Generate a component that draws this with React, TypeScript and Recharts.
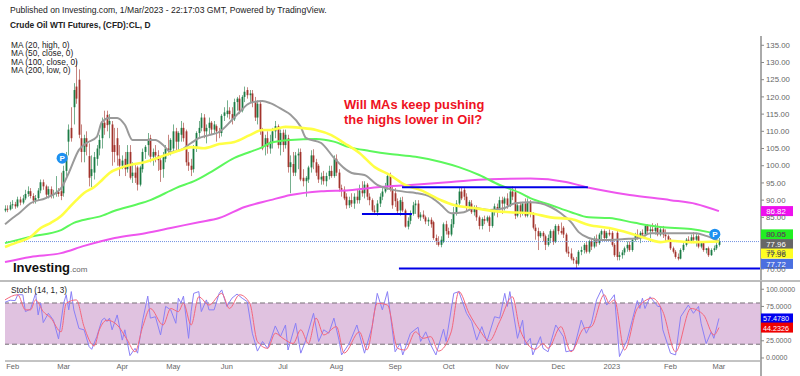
import {
  Bar,
  ComposedChart,
  Line,
  ReferenceArea,
  ReferenceDot,
  ReferenceLine,
  XAxis,
  YAxis,
} from "recharts";

type Ohlc = [number, number, number, number];

// daily bars, open / high / low / close
const janBars: Ohlc[] = [
  [87, 88.5, 86.5, 87.5], [87.5, 88.5, 86.5, 87.3], [87.3, 89.5, 87, 88.5],
];
const febBars: Ohlc[] = [
  [88.5, 90, 87.5, 88.8], [88.8, 89.5, 87.5, 88.2], [88.2, 91, 87.8, 90.2], [90.2, 91, 88.5, 89.3], [89.3, 91.5, 88.8, 90.5],
  [90.5, 93, 90, 91.8], [91.8, 94, 91, 92.6], [92.6, 93.5, 90.5, 91.2], [91.2, 92, 89, 89.9], [89.9, 91.5, 89, 90.6],
  [90.6, 93.5, 90, 92.8], [92.8, 96, 92, 95.2], [95.2, 96, 93, 94], [94, 94.5, 90.5, 91.6], [91.6, 94, 90.5, 93.2],
  [93.2, 94, 90.5, 91.5], [91.5, 93, 90.5, 91.8], [91.8, 97, 91, 92.4], [92.4, 93.5, 91, 91.8], [92.6, 98, 90, 91.2],
];
const marBars: Ohlc[] = [
  [92, 100, 91, 98.5], [98.5, 104, 97, 103], [107, 112, 103, 110.5], [111, 117, 107, 108], [117, 124, 112, 122],
  [123, 130.5, 118, 119.5], [125, 128, 108, 109], [108, 112, 101, 104], [104, 109, 101, 108], [108, 110, 103, 105.5],
  [102.8, 106.5, 94, 96.5], [97, 103, 93.8, 99], [98, 104, 96, 102.5], [102, 106, 100, 105], [105, 109, 103, 107.5],
  [108, 114, 105, 112.5], [112.5, 116, 109, 111], [114.8, 116, 110, 111.8], [112, 115, 108, 113], [112, 113, 100, 104],
  [106, 111, 101, 104], [108, 111, 100, 103], [102, 106, 97, 100],
];
const aprBars: Ohlc[] = [
  [100, 103, 99, 101.5], [102, 104, 97, 99], [99, 106, 98, 104], [104, 106, 96, 96.5], [97, 101, 95, 98],
  [98, 100.5, 95, 96.5], [99.5, 100, 92.8, 94.5], [94.5, 100, 94, 99.5], [99, 105, 98, 104], [104, 106, 102, 105.5],
  [106, 109.5, 103, 107.8], [108, 109, 101, 102.6], [102.6, 105, 100, 104], [104, 106, 101, 103], [103, 104.5, 98.5, 101.6],
  [101.6, 102.5, 95.3, 98.8], [99, 104, 96.5, 102.5], [102, 106, 101, 105], [105, 109, 103, 104.5], [104.5, 108, 103, 107.5],
];
const mayBars: Ohlc[] = [
  [105, 112, 104, 110], [110, 111, 104, 107], [107, 110, 104, 109.5], [109, 113, 107, 111], [111, 112.5, 107, 108],
  [110, 110.5, 100, 101], [101, 104, 98.5, 100], [100, 102, 97, 98.8], [99, 106, 98, 105], [105, 110, 104, 109.5],
  [109.5, 113, 108, 111], [111, 115.3, 110, 114], [114, 115, 108, 110], [110, 112, 106.5, 111], [111, 114, 109, 112.5],
  [112.5, 113, 109, 110.5], [110.5, 113, 109.5, 112], [111.5, 112, 107, 110], [110, 111, 108, 109.5], [109.5, 115, 108.5, 114.5],
  [114.5, 117, 113, 115.5],
];
const junBars: Ohlc[] = [
  [115, 119, 114, 116], [116, 117, 113.5, 115], [115, 117, 112, 113.5], [113.5, 119.5, 113, 118.5], [118.5, 120, 116, 119.5],
  [119.5, 120.5, 115, 116], [116, 120.5, 115.5, 120], [120, 123, 118.5, 121.5], [122, 122.8, 119.5, 120.5], [120.5, 122, 118.5, 121],
  [121, 122, 117, 118.5], [118.5, 120, 113, 114], [114, 119, 112, 118], [118, 119, 109, 110], [110, 111, 104.5, 105],
  [106, 109, 103, 108], [108, 110, 103.5, 105.5], [105, 109, 103.5, 107], [107, 111, 105, 110], [110, 113, 108, 111.5],
  [111.5, 112, 105, 106], [106, 110.5, 103, 109.5],
];
const julBars: Ohlc[] = [
  [109.6, 110.5, 104, 106], [106, 110.5, 105, 109], [108, 109, 98, 99.6], [99.6, 103, 92, 101], [100.5, 104, 97, 98],
  [98, 104, 97, 103], [103, 105, 99, 103.5], [104, 105, 95.5, 96], [96.5, 99, 94, 95.5], [95.5, 97, 91, 96.5],
  [96, 100, 95, 99.5], [99.5, 104.5, 98, 103], [103, 104.8, 99, 101], [101, 102, 97, 98], [100, 100.5, 95, 96],
  [96, 98, 94.5, 96.8], [97, 98.5, 94.5, 95.5], [95.5, 98, 94, 97], [97, 100, 96, 98.5], [98.5, 100, 96.5, 97],
  [97, 103, 96.5, 102],
];
const augBars: Ohlc[] = [
  [102, 103.3, 97, 98], [98, 99, 92.5, 93.5], [93.5, 94.5, 91, 93], [93, 94, 90, 90.5], [91, 92, 87.5, 88.5],
  [88.5, 91, 87.7, 90], [90, 92, 88, 89], [89, 92, 87.5, 91], [91, 93, 89, 90], [90, 94.5, 89, 92.8],
  [92.8, 95.5, 91, 92], [92, 95.5, 90.5, 94.5], [94.5, 95, 90, 91], [91, 92, 88.5, 90], [90, 90.5, 86.5, 87],
  [87, 88.5, 85.7, 86.5], [86.5, 90, 85.5, 89], [89, 92, 88, 91], [91, 93.5, 90, 92.5], [92.5, 95, 92, 94],
  [94, 97.5, 93, 97], [97, 98, 92.5, 93], [93, 94, 87.5, 88.5],
];
const sepBars: Ohlc[] = [
  [92, 93.5, 88, 89.7], [89.7, 90.5, 86, 86.8], [87, 90.8, 85.5, 90], [89.5, 91, 86.5, 87], [87, 87.5, 82, 82.3],
  [82.3, 85, 81.5, 84], [84, 87, 83, 86], [86, 89.5, 85.5, 88.5], [88.5, 90, 86, 89], [89, 90, 84.5, 85],
  [85, 86.5, 84, 85.8], [85.8, 87, 84.5, 85], [85, 85.5, 83, 83.8], [83.8, 85, 82.5, 84.3], [84.3, 85, 82, 83],
  [83.6, 84, 78.5, 79], [79, 80, 77, 78], [78, 79.5, 76.5, 77], [77, 79.5, 76.3, 78.5], [78, 83.5, 77.5, 83],
  [83, 84, 80, 81],
];
const octBars: Ohlc[] = [
  [81, 82, 79, 80], [80, 84.5, 79.5, 83], [83, 88, 82, 86], [86, 90, 85.5, 89], [89, 93.5, 88, 92.5],
  [92.5, 93.8, 90, 90.5], [93, 93.5, 90, 91], [91, 92, 87, 88], [88, 90, 87, 89.5], [89, 90, 86, 86.5],
  [86.5, 88.5, 85.5, 88], [88, 88.5, 84, 85], [85, 85.5, 81.5, 82.5], [82.5, 85, 81.5, 84.5], [84.5, 85.5, 83, 84],
  [84, 85.5, 83.5, 85], [85, 85.5, 80.8, 82.5], [82.5, 87, 82, 86.5], [86.5, 89, 85.5, 88.2], [88, 89, 85, 87.5],
  [87.5, 91, 87, 90],
];
const novBars: Ohlc[] = [
  [90, 91, 86, 89], [89, 91, 87, 90.5], [90.5, 92, 87.5, 88.5], [88.5, 93, 88, 92.5], [92.5, 94, 90, 91],
  [92.3, 93.5, 84.5, 85.5], [85.5, 89, 85, 88.5], [88.5, 89.5, 85, 86], [86, 89.5, 85.5, 89], [89, 90.5, 85, 85.5],
  [85.5, 90.5, 85, 89.5], [89.5, 90, 85, 86], [86, 86.5, 81.5, 82], [82, 83, 78.5, 81], [81, 82, 75.5, 79.5],
  [79.5, 81, 79, 80.5], [80.5, 81, 78, 79.5], [79.5, 80, 75.5, 77], [77, 80, 76.5, 79], [79, 81.5, 77.5, 81],
  [81, 81.5, 77, 78], [78, 83, 77.5, 82.5],
];
const decBars: Ohlc[] = [
  [82.5, 83, 80, 81], [81, 83.5, 80, 80.5], [82, 82.5, 79, 80], [80, 80.5, 74.5, 75], [75, 76.5, 73.5, 74.5],
  [74.5, 76, 72.5, 73], [73, 73.5, 71.5, 72.5], [72.5, 73.5, 70.3, 71.5], [71.5, 75.5, 71, 75], [75, 76.5, 74, 75.5],
  [75.5, 77.5, 74.5, 77], [77, 78, 74.5, 75], [75, 78.5, 74.5, 78], [78, 79, 75.5, 76.5], [76.5, 79.5, 76, 78.8],
  [78.8, 80, 76.5, 77.5], [77.5, 80.5, 77, 80], [80, 81.5, 78.5, 81], [81, 81.5, 78.5, 79], [79, 81, 78, 80.5],
  [80.5, 81.5, 79.5, 80],
];
const jan23Bars: Ohlc[] = [
  [80.5, 81, 76.5, 77], [77, 77.5, 73.5, 74], [80.5, 81, 72.5, 73.5], [73.5, 75, 72.5, 74], [74, 75.5, 73, 74.8],
  [74.8, 76.5, 74, 76], [76, 78, 75, 77], [77, 78, 75, 75.5], [75.5, 79, 75, 78.5], [78.5, 80.5, 78, 80],
  [80, 81.5, 78.5, 79], [79, 81, 77.5, 80.5], [80.5, 81.5, 79.5, 80], [80, 83, 79.5, 82.5], [82.5, 83, 80, 81],
  [81, 82.5, 79, 81.5], [81.5, 83.3, 80.5, 81], [81, 83, 80, 82], [82, 83.3, 79.5, 80], [80, 82, 79.5, 81.5],
  [81.5, 82.5, 79, 80], [80, 81.5, 78, 79.5], [79.5, 80, 78, 78.5],
];
const feb23Bars: Ohlc[] = [
  [78.5, 79, 75.5, 76], [76, 76.5, 74.5, 75], [75, 75.5, 73, 73.5], [73.5, 74.5, 72.5, 73], [73, 76, 72.8, 75.5],
  [75.5, 77.5, 75, 77], [77, 79, 76.5, 78.5], [78.5, 79.5, 77.5, 78], [78, 80, 77.5, 79.2], [79.2, 80.7, 77.5, 78.5],
  [78.5, 80.5, 76.5, 79.5], [79.5, 80, 76, 76.5], [76.5, 78, 76, 77.5], [77.5, 78, 75, 75.5], [75.5, 76, 74.5, 76],
  [76, 76.5, 73.5, 74], [74, 76, 73.8, 75.5], [75.5, 76.8, 75, 76], [76, 78, 75.5, 77], [77, 79, 76.5, 77.96],
];

// moving averages as [bar, value] points
const ma20: [number, number][] = [
  [0, 83], [3, 84.8], [6, 86.5], [10, 89.1], [16, 90.6], [22, 93.5], [25, 97.9], [29, 104.6], [32, 106.6], [36, 108.4],
  [38, 112.7], [41, 113.9], [44, 113.9], [47, 111.9], [50, 107.5], [56, 107.5], [59, 107.5], [62, 106], [65, 104], [69, 104.6],
  [73, 106.6], [76, 108], [80, 108.9], [84, 109.8], [89, 113.3], [92, 115.6], [96, 118.2], [101, 118.8], [104, 118.2], [109, 116.2],
  [112, 114.8], [116, 111.3], [118, 108.1], [124, 106.6], [129, 102.3], [133, 99.3], [136, 97.9], [141, 97.3], [146, 94.4], [151, 93.2],
  [157, 92.4], [161, 92.1], [167, 90.9], [171, 88.6], [175, 86.2], [180, 86.5], [184, 87.7], [190, 87.1], [196, 87.7], [200, 89.1],
  [206, 89.4], [210, 89.1], [214, 88], [218, 86.2], [222, 83.6], [225, 80.7], [229, 79], [233, 78.4], [243, 78.7], [249, 79],
  [253, 80.4], [265, 80.4], [271, 80.4], [275, 79.6], [280, 78.1],
];
const ma50: [number, number][] = [
  [0, 76.4], [4, 77.5], [10, 79.3], [14, 81.9], [18, 83.4], [22, 85.4], [25, 87.7], [28, 90], [31, 92.1], [35, 93.8],
  [38, 95.8], [41, 97.9], [45, 99.3], [49, 100.2], [55, 101.1], [63, 103.1], [69, 104.6], [73, 105.4], [78, 105.1], [84, 106.3],
  [90, 106.9], [96, 108.9], [101, 110.4], [104, 110.4], [110, 111.3], [116, 111], [122, 110.4], [128, 108.9], [133, 106.6], [139, 103.7],
  [145, 99.6], [151, 97.3], [157, 94.4], [163, 92.9], [171, 90], [176, 88.6], [184, 87.7], [192, 86.8], [198, 86.5], [206, 86.2],
  [214, 85], [222, 84.5], [229, 82.8], [237, 81.9], [245, 80.4], [251, 79], [257, 77.8], [261, 78.2], [269, 77.8], [280, 78],
];
const ma100: [number, number][] = [
  [0, 77.5], [10, 79.4], [22, 81.3], [27, 83.4], [33, 84.6], [37, 85.2], [43, 86.9], [51, 88.6], [57, 90], [67, 93.5],
  [75, 95.8], [82, 98.75], [90, 102.3], [96, 104], [101, 105.4], [104, 106.6], [112, 107.5], [122, 107.8], [129, 107], [135, 105.4],
  [143, 104.3], [151, 103.4], [161, 102.6], [171, 101.1], [178, 99.6], [186, 97.3], [194, 94.4], [202, 92.1], [206, 90.6], [214, 88.6],
  [222, 86.5], [229, 85], [237, 84.8], [247, 83.4], [257, 82.2], [269, 81.6], [276, 80.7], [280, 80.05],
];
const ma200: [number, number][] = [
  [0, 72], [10, 73.5], [22, 74.6], [31, 76.7], [43, 79], [55, 80.4], [65, 81.9], [76, 83.6], [84, 84.8], [94, 88],
  [104, 90], [112, 91.5], [124, 92.6], [135, 92.9], [147, 93.8], [159, 94.4], [175, 95.3], [190, 96.1], [206, 96.3], [220, 95.3],
  [229, 93.6], [245, 91.5], [261, 90], [271, 88.9], [280, 86.82],
];

const stochK: [number, number][] = [
  [0, 81], [2, 84], [4, 83.5], [5, 92], [7, 92], [8, 67.5], [10, 71], [12, 94], [13, 62.6], [14, 79.6],
  [15, 51.5], [17, 65], [19, 55], [21, 27.7], [23, 79.6], [24, 92], [25, 70], [26, 96.6], [27, 70], [29, 43],
  [31, 41], [33, 16.5], [34, 12.6], [36, 31], [38, 55], [39, 58], [40, 53], [41, 58], [42, 41], [44, 62.6],
  [46, 26], [47, 41], [49, 3.4], [51, 14], [52, 7], [54, 55], [56, 90], [57, 58], [59, 60], [61, 33.5],
  [62, 53], [63, 75], [65, 70], [67, 50.5], [68, 87], [69, 80], [70, 90], [72, 28.6], [73, 67.5], [74, 94],
  [76, 96.6], [77, 67.5], [79, 84.5], [80, 70], [82, 70], [84, 94], [85, 99], [87, 75], [89, 87], [91, 93],
  [93, 87], [95, 82], [97, 36], [99, 10], [101, 24], [103, 14], [106, 46.6], [108, 31], [110, 48], [111, 11.6],
  [114, 50.5], [116, 7], [118, 26], [121, 65], [123, 24], [125, 41], [127, 36], [129, 58], [131, 26], [132, 4.4],
  [135, 21], [138, 48], [141, 7], [144, 45.6], [146, 94], [148, 70], [150, 96.6], [153, 9], [155, 21], [156, 4.4],
  [159, 36], [162, 44.7], [163, 24], [165, 38], [167, 19], [169, 4.4], [172, 42], [173, 24], [176, 94], [178, 96.6],
  [181, 65], [183, 53], [185, 26], [187, 45.6], [189, 24], [192, 60], [194, 58], [196, 94], [197, 75], [198, 96.6],
  [201, 28.6], [203, 55], [204, 19], [206, 28.6], [207, 4.4], [210, 31], [211, 14], [213, 9], [216, 48], [219, 31],
  [220, 9], [223, 11.6], [226, 55], [228, 36], [230, 50.5], [232, 84.5], [234, 100], [236, 77], [239, 92], [241, 2],
  [244, 26], [246, 55], [248, 83.5], [249, 72], [250, 87], [251, 72], [253, 89], [256, 75], [257, 75], [258, 41],
  [261, 7], [263, 4.4], [265, 60], [268, 77], [270, 65], [272, 75], [273, 50.5], [275, 21], [277, 38], [278, 28.6],
  [280, 57.48],
];
const stochD: [number, number][] = [
  [0, 84.5], [5, 92], [8, 70], [10, 70], [12, 84.5], [15, 67.5], [18, 58], [22, 38], [24, 79.6], [28, 84.5],
  [31, 45.6], [35, 17.5], [37, 41], [40, 55], [44, 48], [48, 26], [51, 9], [54, 45.6], [57, 72], [62, 48],
  [65, 72], [68, 67.5], [70, 79.6], [73, 48], [76, 89], [80, 77], [85, 94], [88, 72], [92, 92], [96, 79.6],
  [99, 24], [103, 14], [106, 36], [109, 28.6], [113, 21], [116, 41], [119, 21], [122, 58], [125, 33.5], [130, 45.6],
  [133, 7], [139, 38], [142, 11.6], [146, 79.6], [150, 77], [154, 14], [157, 11.6], [161, 38], [164, 28.6], [167, 31],
  [170, 10], [175, 38], [178, 96.6], [182, 65], [186, 41], [190, 25], [194, 53], [199, 89], [202, 41], [208, 12.6],
  [211, 21], [213, 14], [218, 45.6], [222, 9], [227, 43], [230, 45.6], [235, 92], [237, 79.6], [239, 84.5], [243, 11.6],
  [248, 72], [254, 87], [258, 67.5], [263, 9], [269, 72], [274, 62.6], [278, 33.5], [280, 44.23],
];

const priceTicks = [70, 75, 80, 85, 90, 95, 100, 105, 110, 115, 120, 125, 130, 135];
const stochTicks = [0, 25, 75, 100];
const monthTicks = [3, 23, 46, 66, 87, 109, 130, 153, 174, 195, 217, 238, 261, 280];
const monthLabels = ["Feb", "Mar", "Apr", "May", "Jun", "Jul", "Aug", "Sep", "Oct", "Nov", "Dec", "2023", "Feb", "Mar"];
const maLegend = ["MA (20, high, 0)", "MA (50, close, 0)", "MA (100, close, 0)", "MA (200, low, 0)"];

const FONT = '"Liberation Sans", Arial, sans-serif';
const LAST_BAR_X = 296.5;

const bars = [
  ...janBars, ...febBars, ...marBars, ...aprBars, ...mayBars, ...junBars, ...julBars,
  ...augBars, ...sepBars, ...octBars, ...novBars, ...decBars, ...jan23Bars, ...feb23Bars,
].map(([open, high, low, close], i) => ({ i, open, high, low, close }));

const points = (rows: [number, number][]) => rows.map(([i, v]) => ({ i, v }));

function Candle(props: any) {
  const { x, y, width, height, payload } = props;
  const k = height / (payload.high - payload.low);
  const up = payload.close >= payload.open;
  const color = up ? "#1b7c45" : "#a2332c";
  const top = y + (payload.high - Math.max(payload.open, payload.close)) * k;
  const bodyH = Math.max(Math.abs(payload.open - payload.close) * k, 1);
  const mid = Math.round(x + width / 2);
  return (
    <g>
      <rect x={mid} y={y} width={1} height={height} fill={color} fillOpacity={0.6} />
      <rect x={mid - 0.4} y={top} width={1.8} height={bodyH} fill={color} />
    </g>
  );
}

// price tag sitting on the right axis
function tag(text: string, fill: string, color: string, shift = 0, size = 7.8) {
  return (props: any) => (
    <g>
      <rect x={props.cx} y={props.cy - 5 + shift} width={32} height={10} fill={fill} />
      <text
        x={props.cx + 15}
        y={props.cy + 3 + shift}
        textAnchor="middle"
        fontSize={size}
        fontFamily={FONT}
        fill={color}
      >
        {text}
      </text>
    </g>
  );
}

function badge(props: any) {
  return (
    <g>
      <circle cx={props.cx} cy={props.cy} r={5.5} fill="#1e90f0" />
      <text
        x={props.cx}
        y={props.cy + 3}
        textAnchor="middle"
        fontSize={8}
        fontWeight="bold"
        fontFamily={FONT}
        fill="#fff"
      >
        P
      </text>
    </g>
  );
}

function Caption({ x, y, size, bold, color, children }: any) {
  return (
    <div
      style={{
        position: "absolute",
        left: x,
        top: y,
        fontFamily: FONT,
        fontSize: size,
        fontWeight: bold ? "bold" : "normal",
        color: color ?? "#222",
        whiteSpace: "nowrap",
        lineHeight: 1,
      }}
    >
      {children}
    </div>
  );
}

export default function App() {
  const priceTick = { fill: "#666", fontSize: 7.8, fontFamily: FONT };
  const stochTick = { fill: "#666", fontSize: 7, fontFamily: FONT };
  const monthTick = { fill: "#666", fontSize: 7.5, fontFamily: FONT };
  return (
    <div style={{ position: "absolute", left: 0, top: 0, width: 800, height: 376, background: "#fff", overflow: "hidden" }}>
      <div style={{ position: "absolute", left: 0, top: 0 }}>
        <ComposedChart
          width={800}
          height={281}
          data={bars}
          margin={{ top: 36, right: 0, bottom: 0, left: 5 }}
        >
          <XAxis dataKey="i" type="number" domain={[0, LAST_BAR_X]} hide />
          <YAxis
            orientation="right"
            width={39}
            domain={[66.5, 137.7]}
            allowDataOverflow
            ticks={priceTicks}
            interval={0}
            tickFormatter={(v: number) => v.toFixed(2)}
            tick={priceTick}
            tickSize={3}
            tickMargin={2}
            tickLine={{ stroke: "#888" }}
            axisLine={{ stroke: "#aaa", strokeWidth: 2 }}
          />
          <ReferenceLine y={77.96} stroke="#6f8fe0" strokeDasharray="1 1" />
          <Bar
            dataKey={(d: any) => [d.low, d.high]}
            barSize={2}
            shape={Candle}
            isAnimationActive={false}
          />
          <Line data={points(ma200)} dataKey="v" type="monotone" stroke="#ee55ee" strokeWidth={2} dot={false} isAnimationActive={false} />
          <Line data={points(ma100)} dataKey="v" type="monotone" stroke="#5cf75c" strokeWidth={2} dot={false} isAnimationActive={false} />
          <Line data={points(ma20)} dataKey="v" type="monotone" stroke="#9a9a9a" strokeWidth={2} dot={false} isAnimationActive={false} />
          <Line data={points(ma50)} dataKey="v" type="monotone" stroke="#ffff44" strokeWidth={2.6} dot={false} isAnimationActive={false} />
          <ReferenceLine segment={[{ x: 155.7, y: 93.75 }, { x: 228.6, y: 93.75 }]} stroke="#0000e6" strokeWidth={2} />
          <ReferenceLine segment={[{ x: 140, y: 86 }, { x: 159.6, y: 86 }]} stroke="#0000e6" strokeWidth={2} />
          <ReferenceLine segment={[{ x: 154.5, y: 70.1 }, { x: LAST_BAR_X, y: 70.1 }]} stroke="#0000e6" strokeWidth={2} />
          <ReferenceDot x={22.4} y={102.2} ifOverflow="visible" shape={badge} />
          <ReferenceDot x={278.4} y={80.1} ifOverflow="visible" shape={badge} />
          <ReferenceDot x={LAST_BAR_X} y={86.82} ifOverflow="visible" shape={tag("86.82", "#ee11ee", "#fff")} />
          <ReferenceDot x={LAST_BAR_X} y={80.05} ifOverflow="visible" shape={tag("80.05", "#22ee22", "#333")} />
          <ReferenceDot x={LAST_BAR_X} y={77.96} ifOverflow="visible" shape={tag("77.96", "#666666", "#fff", 2.5)} />
          <ReferenceDot x={LAST_BAR_X} y={77.96} ifOverflow="visible" shape={tag("77.96", "#ffff22", "#333", 12)} />
          <ReferenceDot x={LAST_BAR_X} y={77.72} ifOverflow="visible" shape={tag("77.72", "#4a6fe0", "#fff", 21.5)} />
        </ComposedChart>
      </div>

      <div style={{ position: "absolute", left: 0, top: 280, width: 800, height: 2, background: "#bdbdbd" }} />

      <div style={{ position: "absolute", left: 0, top: 281 }}>
        <ComposedChart
          width={800}
          height={95}
          data={points(stochK)}
          margin={{ top: 0, right: 0, bottom: 0, left: 5 }}
        >
          <XAxis
            dataKey="i"
            type="number"
            domain={[0, LAST_BAR_X]}
            ticks={monthTicks}
            interval={0}
            height={15}
            tickFormatter={(v: number) => monthLabels[monthTicks.indexOf(v)]}
            tick={monthTick}
            tickSize={0}
            tickMargin={3}
            axisLine={{ stroke: "#888" }}
          />
          <YAxis
            orientation="right"
            width={39}
            domain={[-4.4, 112]}
            allowDataOverflow
            ticks={stochTicks}
            interval={0}
            tickFormatter={(v: number) => v.toFixed(4)}
            tick={stochTick}
            tickSize={3}
            tickMargin={2}
            tickLine={{ stroke: "#888" }}
            axisLine={{ stroke: "#aaa", strokeWidth: 2 }}
          />
          <ReferenceArea y1={20} y2={80} fill="#e0c2e0" fillOpacity={1} stroke="none" />
          <ReferenceLine y={80} stroke="#776f77" strokeDasharray="5 3" />
          <ReferenceLine y={20} stroke="#776f77" strokeDasharray="5 3" />
          <Line dataKey="v" stroke="#8a80f6" strokeWidth={1} dot={false} isAnimationActive={false} />
          <Line data={points(stochD)} dataKey="v" type="monotone" stroke="#f4667c" strokeWidth={1} dot={false} isAnimationActive={false} />
          <ReferenceDot x={LAST_BAR_X} y={57.48} ifOverflow="visible" shape={tag("57.4780", "#0000ee", "#fff", 0, 7.2)} />
          <ReferenceDot x={LAST_BAR_X} y={44.23} ifOverflow="visible" shape={tag("44.2326", "#ee0000", "#fff", 0, 7.2)} />
        </ComposedChart>
      </div>

      <div style={{ position: "absolute", left: 760, top: 361, width: 2, height: 15, background: "#aaa" }} />

      <Caption x={10} y={6} size={8.6}>
        Published on Investing.com, 1/Mar/2023 - 22:17:03 GMT, Powered by TradingView.
      </Caption>
      <Caption x={10} y={21} size={8.4} bold>
        Crude Oil WTI Futures, (CFD):CL, D
      </Caption>
      {maLegend.map((label, n) => (
        <Caption key={label} x={11} y={41 + n * 8.3} size={8.3}>
          {label}
        </Caption>
      ))}
      <Caption x={344} y={99} size={12.9} bold color="#ee1122">
        Will MAs keep pushing
      </Caption>
      <Caption x={344} y={114} size={12.9} bold color="#ee1122">
        the highs lower in Oil?
      </Caption>
      <Caption x={13} y={261} size={13} bold color="#111">
        Investing<span style={{ fontSize: 8, fontWeight: "normal", color: "#666" }}>.com</span>
      </Caption>
      <Caption x={11} y={287} size={8.2}>
        Stoch (14, 1, 3)
      </Caption>
    </div>
  );
}
